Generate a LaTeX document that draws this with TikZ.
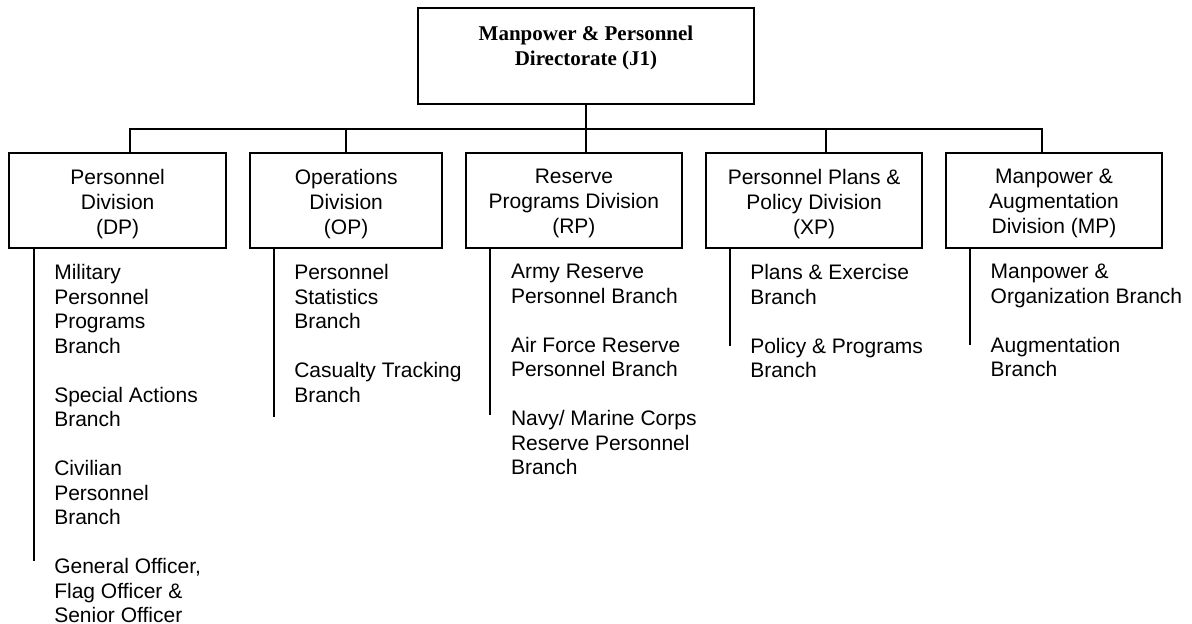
\documentclass[tikz,border=0pt]{standalone}
\usepackage{fontspec}
\setmainfont{Liberation Sans}
\newfontfamily\titlefont{Liberation Serif}
\begin{document}
\begin{tikzpicture}[x=1pt,y=-1pt,
  line width=2pt,
  boxshape/.style={draw, line width=2pt, inner sep=0pt, outer sep=0pt, minimum height=#1},
  divtext/.style={anchor=north, align=center, inner sep=0pt, font=\fontsize{21}{24.8}\selectfont},
  brtext/.style={anchor=north west, align=left, inner sep=0pt, font=\fontsize{21}{24.5}\selectfont},
  titletext/.style={anchor=north, align=center, inner sep=0pt, font=\titlefont\bfseries\fontsize{21}{25}\selectfont},
  link/.style={draw, line width=2pt}
]
\useasboundingbox (0,0) rectangle (1192,624);

% top box
\node[boxshape=96pt, minimum width=336.3pt] (top) at (585.85,56.3) {};
\node[titletext] (toptext) at (586,25) {Manpower \& Personnel\\Directorate (J1)};

% division boxes
\node[boxshape=95.6pt, minimum width=216.7pt] (d1) at (117.65,200.5) {};
\node[boxshape=95.6pt, minimum width=192.3pt] (d2) at (346.15,200.5) {};
\node[boxshape=95.6pt, minimum width=216.3pt] (d3) at (573.85,200.5) {};
\node[boxshape=95.6pt, minimum width=216.3pt] (d4) at (814.15,200.5) {};
\node[boxshape=95.6pt, minimum width=216pt] (d5) at (1054,200.5) {};

\node[divtext] (t1) at (117.65,168.3) {Personnel\\Division\\(DP)};
\node[divtext] (t2) at (346.15,168.3) {Operations\\Division\\(OP)};
\node[divtext] (t3) at (573.85,168.3) {Reserve\\Programs Division\\(RP)};
\node[divtext] (t4) at (814.15,168.3) {Personnel Plans \&\\Policy Division\\(XP)};
\node[divtext] (t5) at (1054,168.3) {Manpower \&\\Augmentation\\Division (MP)};

% connectors from top
\draw[link] (top.south) -- (top.south |- d3.north);
\draw[link] ([xshift=12.35pt]d1.north) -- ++(0,-23.7) -| ([xshift=-12pt]d5.north);
\draw[link] (d2.north) -- ++(0,-23.7);
\draw[link] ([xshift=11.85pt]d4.north) -- ++(0,-23.7);

% branch lines
\coordinate (e1) at (34,560.7);
\coordinate (e2) at (274,417.3);
\coordinate (e3) at (490,415);
\coordinate (e4) at (730,346);
\coordinate (e5) at (970.3,345);
\draw[link] (d1.south -| e1) -- (e1);
\draw[link] (d2.south -| e2) -- (e2);
\draw[link] (d3.south -| e3) -- (e3);
\draw[link] (d4.south -| e4) -- (e4);
\draw[link] (d5.south -| e5) -- (e5);

% branch texts
\node[brtext] (b1) at (53.3,263.3) {Military\\Personnel\\Programs\\Branch\\[24.5pt]Special Actions\\Branch\\[24.5pt]Civilian\\Personnel\\Branch\\[24.5pt]General Officer,\\Flag Officer \&\\Senior Officer};
\node[brtext] (b2) at (293.3,263.3) {Personnel\\Statistics\\Branch\\[24.5pt]Casualty Tracking\\Branch};
\node[brtext] (b3) at (510,263.3) {Army Reserve\\Personnel Branch\\[24.5pt]Air Force Reserve\\Personnel Branch\\[24.5pt]Navy/ Marine Corps\\Reserve Personnel\\Branch};
\node[brtext] (b4) at (749.3,263.3) {Plans \& Exercise\\Branch\\[24.5pt]Policy \& Programs\\Branch};
\node[brtext] (b5) at (989.7,263.3) {Manpower \&\\Organization Branch\\[24.5pt]Augmentation\\Branch};
\end{tikzpicture}
\end{document}
